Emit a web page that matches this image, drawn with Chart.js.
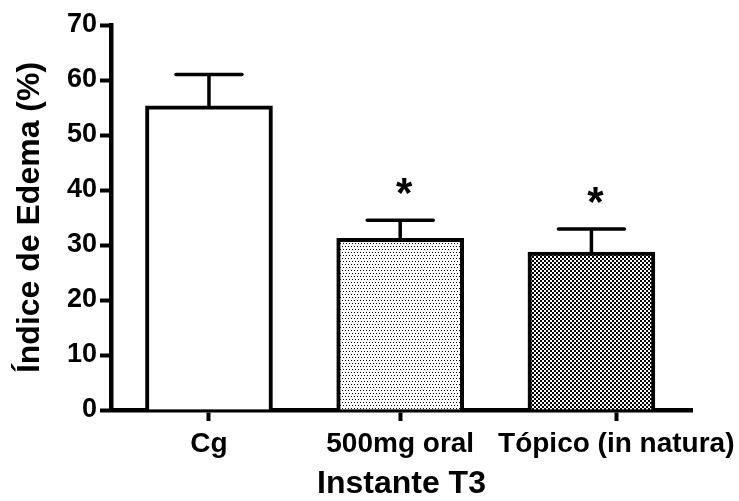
<!DOCTYPE html>
<html lang="pt">
  <head>
    <meta charset="UTF-8" />
    <title>Índice de Edema - Instante T3</title>
    <script src="https://cdn.jsdelivr.net/npm/chart.js@4.4.0/dist/chart.umd.min.js"></script>
    <style>
      html, body { margin: 0; padding: 0; background: #fff; }
      #wrap { width: 739px; height: 501px; }
    </style>
  </head>
  <body>
    <div id="wrap"><canvas id="chart"></canvas></div>
    <script>
      var groups = ['Cg', '500mg oral', 'Tópico (in natura)'];
      var means = [55.3, 31.2, 28.7];
      var sem = [5.7, 3.3, 4.2];
      var marks = ['', '*', '*'];
      var yTicks = [0, 10, 20, 30, 40, 50, 60, 70];

      var FONT = "'Liberation Sans', Arial, Helvetica, sans-serif";

      // small bitmap fills for the treated groups
      function makePattern(size, cells) {
        var c = document.createElement('canvas');
        c.width = size;
        c.height = size;
        var g = c.getContext('2d');
        g.fillStyle = '#fff';
        g.fillRect(0, 0, size, size);
        g.fillStyle = '#000';
        cells.forEach(function (p) { g.fillRect(p[0], p[1], p[2], p[2]); });
        return g.createPattern(c, 'repeat');
      }
      var ctx = document.getElementById('chart').getContext('2d');
      var dots = makePattern(6, [[0, 0, 1], [3, 0, 1], [1, 3, 1], [4, 3, 1]]);
      var checker = makePattern(4, [[0, 0, 2], [2, 2, 2]]);

      // upper error bars and significance marks
      var errorBars = {
        id: 'errorBars',
        afterDatasetsDraw: function (chart) {
          var c = chart.ctx;
          var y = chart.scales.y;
          var meta = chart.getDatasetMeta(0);
          c.save();
          c.strokeStyle = '#000';
          c.lineWidth = 3.5;
          c.lineCap = 'round';
          meta.data.forEach(function (bar, i) {
            var top = y.getPixelForValue(means[i] + sem[i]);
            var half = bar.width * 0.26;
            c.beginPath();
            c.moveTo(bar.x, bar.y);
            c.lineTo(bar.x, top);
            c.moveTo(bar.x - half, top);
            c.lineTo(bar.x + half, top);
            c.stroke();
            if (marks[i]) {
              c.fillStyle = '#000';
              c.font = 'bold 42px ' + FONT;
              c.textAlign = 'center';
              c.textBaseline = 'alphabetic';
              c.fillText(marks[i], bar.x + 4, top - 13);
            }
          });
          c.restore();
        }
      };

      new Chart(ctx, {
        type: 'bar',
        data: {
          datasets: [{
            data: means.map(function (v, i) { return { x: i + 1, y: v }; }),
            backgroundColor: ['#ffffff', dots, checker],
            borderColor: '#000',
            borderWidth: 4,
            barThickness: 127,
            grouped: false
          }]
        },
        options: {
          responsive: true,
          maintainAspectRatio: false,
          animation: false,
          layout: { padding: { top: 25, right: 47, left: 0, bottom: 0 } },
          plugins: {
            legend: { display: false },
            tooltip: { enabled: false }
          },
          scales: {
            x: {
              type: 'linear',
              offset: false,
              min: 0.4876,
              max: 3.526,
              afterBuildTicks: function (s) {
                s.ticks = [1, 2, 3.13].map(function (v) { return { value: v }; });
              },
              afterFit: function (s) {
                s.height = 91;
                s.paddingLeft = 0;
                s.paddingRight = 0;
              },
              ticks: {
                color: '#000',
                font: { family: FONT, size: 28, weight: 'bold' },
                padding: 6,
                maxRotation: 0,
                autoSkip: false,
                callback: function (v, i) { return groups[i]; }
              },
              grid: {
                offset: false,
                drawOnChartArea: false,
                tickLength: 11,
                tickWidth: 4,
                tickColor: '#000'
              },
              border: { display: true, color: '#000', width: 4.5 },
              title: {
                display: true,
                text: 'Instante T3',
                color: '#000',
                font: { family: FONT, size: 32, weight: 'bold' },
                padding: { top: 0, bottom: -2 }
              }
            },
            y: {
              min: 0,
              max: 70,
              afterBuildTicks: function (s) {
                s.ticks = yTicks.map(function (v) { return { value: v }; });
              },
              afterFit: function (s) {
                s.width = 111;
                s.paddingTop = 0;
                s.paddingBottom = 0;
              },
              ticks: {
                color: '#000',
                font: { family: FONT, size: 27, weight: 'bold' },
                padding: 3
              },
              grid: {
                drawOnChartArea: false,
                tickLength: 11,
                tickWidth: 4,
                tickColor: '#000'
              },
              border: { display: true, color: '#000', width: 4.5 },
              title: {
                display: true,
                text: 'Índice de Edema (%)',
                color: '#000',
                font: { family: FONT, size: 32, weight: 'bold' },
                padding: { top: 11, bottom: 0 }
              }
            }
          }
        },
        plugins: [errorBars]
      });
    </script>
  </body>
</html>
